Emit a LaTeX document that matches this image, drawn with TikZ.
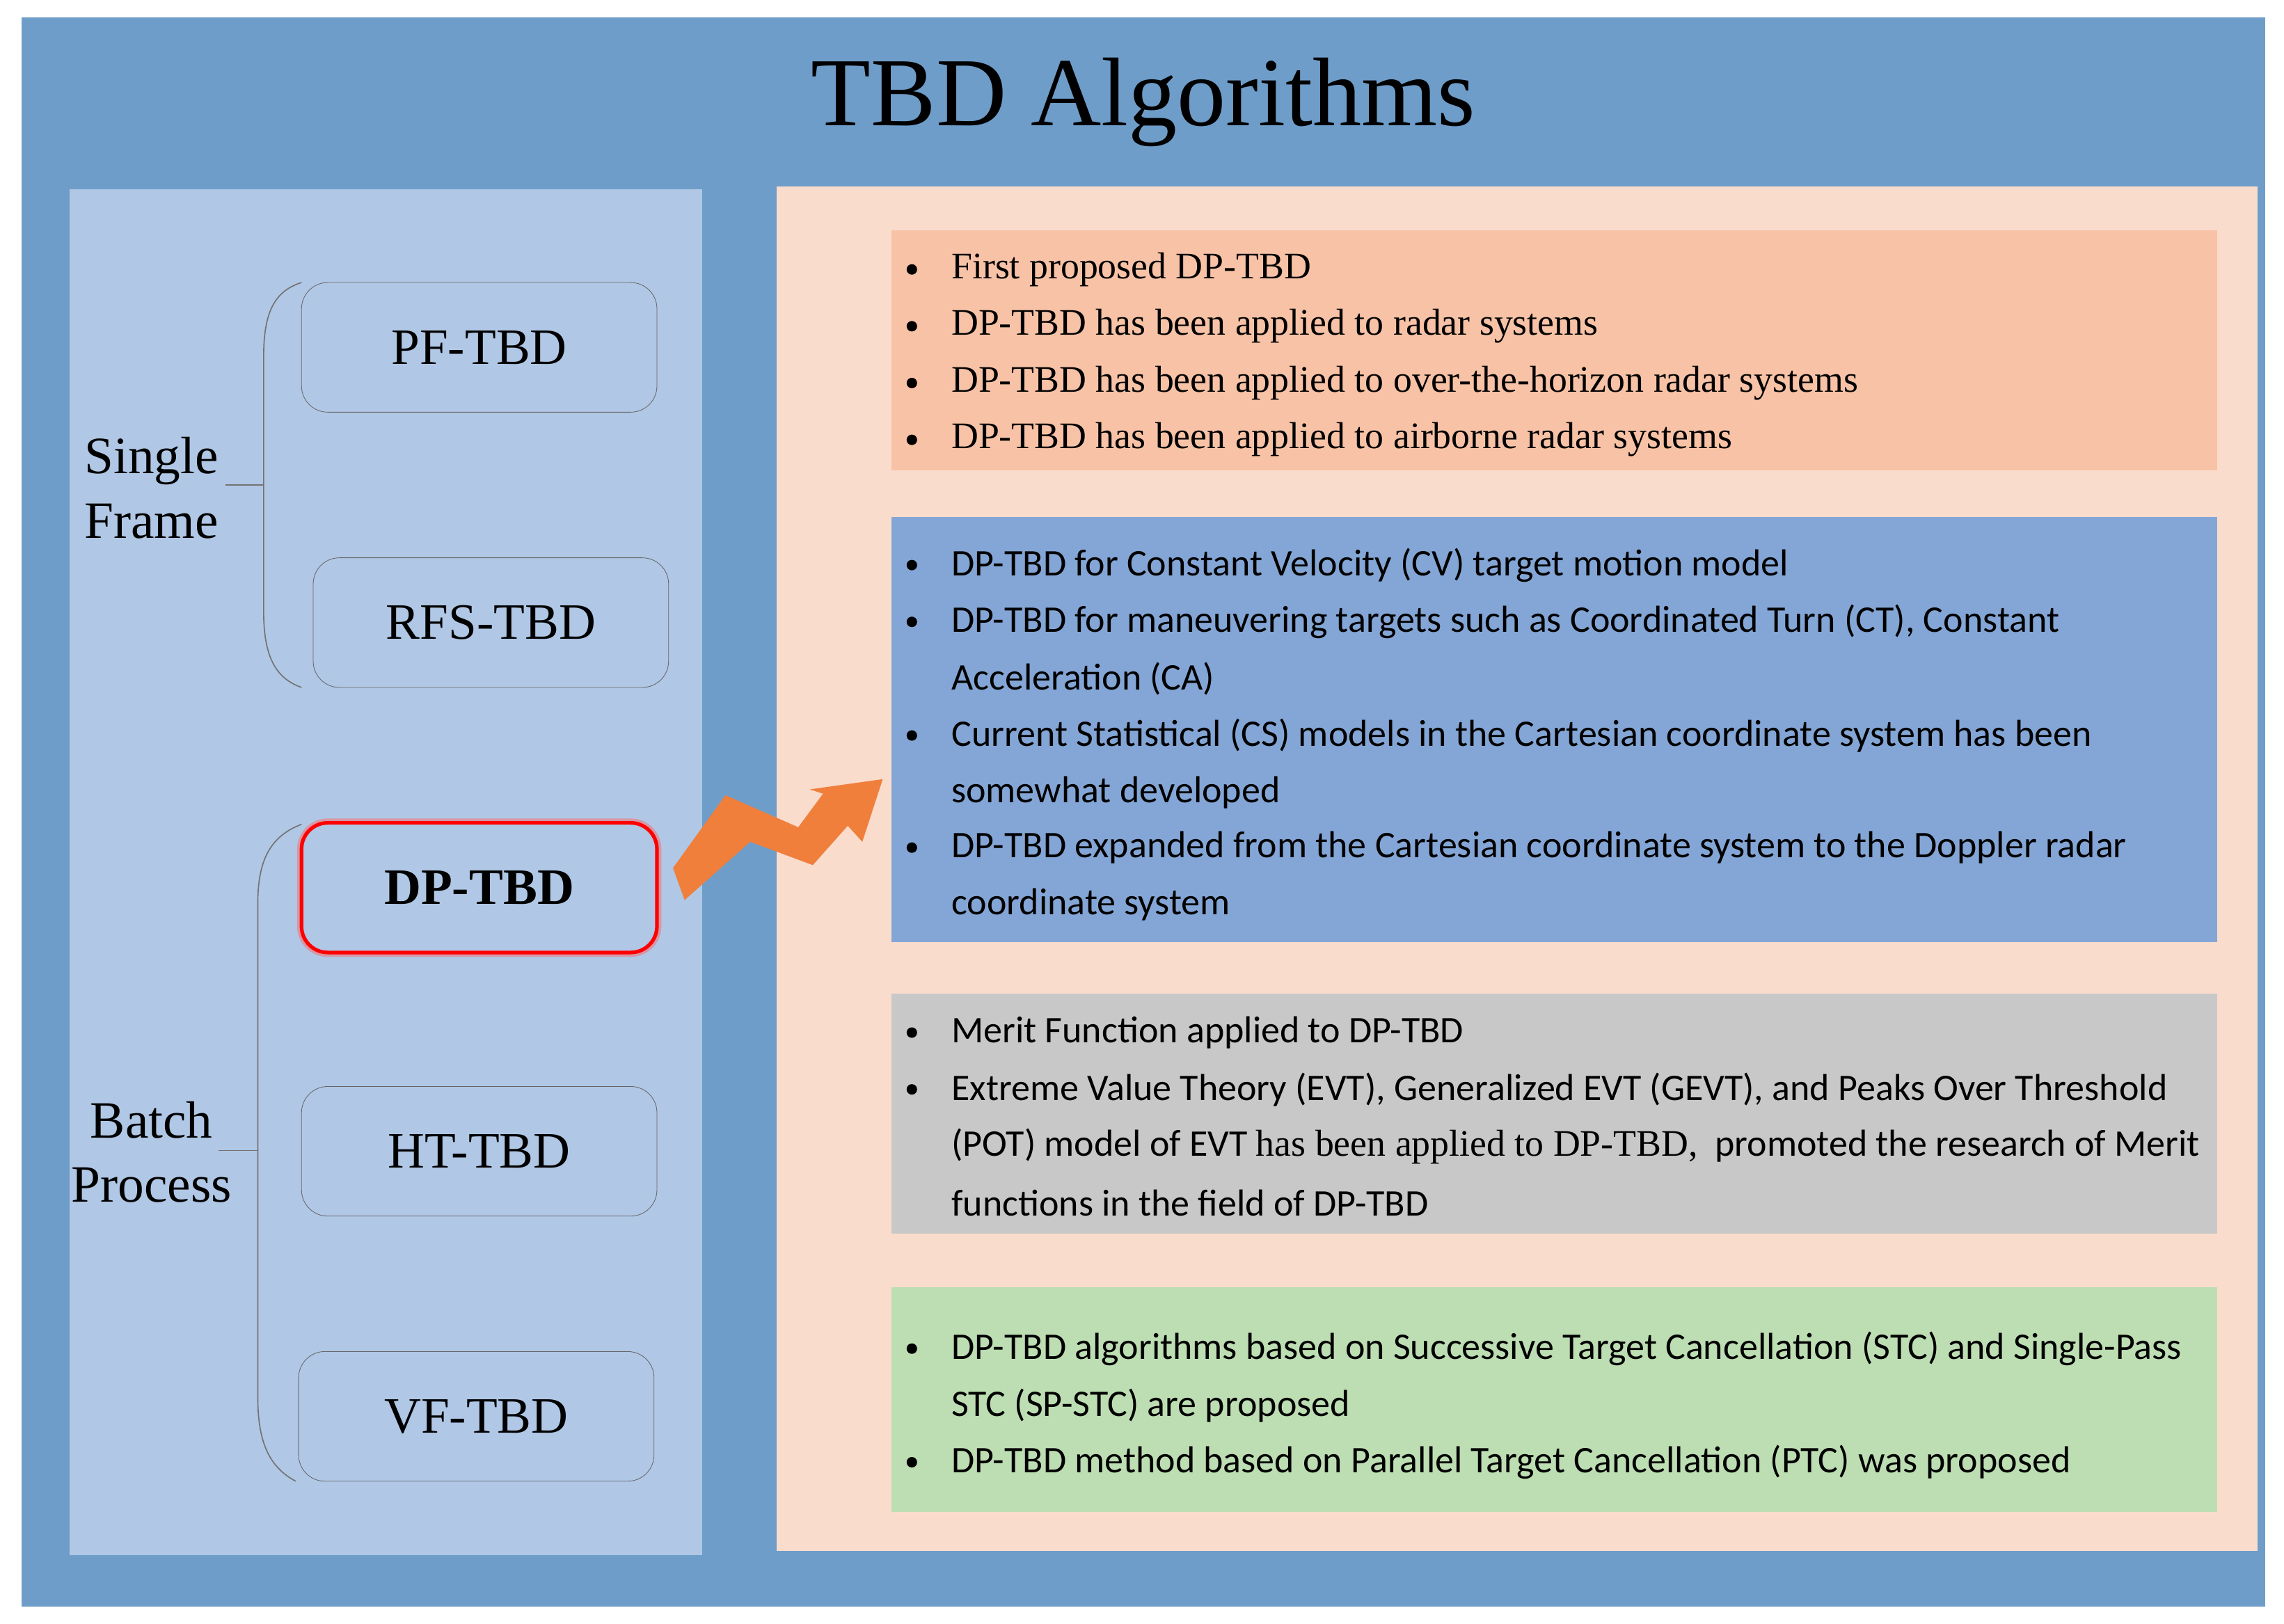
\documentclass[tikz,border=0pt]{standalone}
\usepackage{fontspec}
\setmainfont{Liberation Serif}
\newfontfamily\calfont{Carlito}
\definecolor{frameblue}{HTML}{6E9DC9}
\definecolor{leftblue}{HTML}{B0C7E5}
\definecolor{peach}{HTML}{FADCCD}
\definecolor{boxA}{HTML}{F7C2A6}
\definecolor{boxB}{HTML}{84A6D6}
\definecolor{boxC}{HTML}{C8C8C8}
\definecolor{boxD}{HTML}{BDDEB3}
\definecolor{arr}{HTML}{F07F3C}
\tikzset{
 alg/.style={draw=black!60,rounded corners=18pt,minimum width=244pt,minimum height=89pt,font=\fontsize{35}{40}\selectfont,fill=leftblue},
 bl/.style={anchor=west,inner sep=0pt,font=\fontsize{25.7}{27}\selectfont},
 cb/.style={bl,font=\calfont\fontsize{25.8}{27}\selectfont},
 brace/.style={draw=black!55,line width=0.8pt}
}
\begin{document}
\begin{tikzpicture}[x=1pt,y=-1pt]
\useasboundingbox (0,0) rectangle (1568,1115);
\fill[white] (0,0) rectangle (1568,1115);
\fill[frameblue] (15,12) rectangle (1555,1103);
\node[font=\fontsize{67}{70}\selectfont] (title) at (785,70) {TBD Algorithms};
\fill[leftblue] (48,130) rectangle (482,1068);
\fill[peach] (533,128) rectangle (1550,1065);
\fill[boxA] (612,158) rectangle (1522,323);
\fill[boxB] (612,355) rectangle (1522,647);
\fill[boxC] (612,682) rectangle (1522,847);
\fill[boxD] (612,884) rectangle (1522,1038);
% algorithm nodes
\node[alg] (pf) at (329,238.5) {PF-TBD};
\node[alg] (rfs) at (337,427.5) {RFS-TBD};
\node[alg,draw=red!60,line width=6pt,opacity=0.5] (dpglow) at (329,609.5) {\phantom{DP-TBD}};
\node[alg,draw=red,line width=2.5pt,font=\bfseries\fontsize{35}{40}\selectfont] (dp) at (329,609.5) {DP-TBD};
\node[alg] (ht) at (329,790.5) {HT-TBD};
\node[alg] (vf) at (327,972.5) {VF-TBD};
% braces
\draw[brace] (207,194) .. controls (188,200) and (181,215) .. (181,245) -- (181,420) .. controls (181,452) and (190,466) .. (207,472);
\draw[brace] (181,333) -- (155,333);
\draw[brace] (207,566) .. controls (186,574) and (177,590) .. (177,620) -- (177,960) .. controls (177,992) and (186,1008) .. (203,1017);
\draw[brace] (177,790) -- (150,790);
\node[align=center,font=\fontsize{36}{44}\selectfont] (sf) at (104,335) {Single\\Frame};
\node[align=center,font=\fontsize{36}{44}\selectfont] (bp) at (104,791) {Batch\\Process};
% arrow
\fill[arr] (462,596) -- (498,546) -- (548,568) -- (565,545) -- (556,542) -- (606,535) -- (592,578) -- (582,567) -- (558,594) -- (515,578) -- (470,618) -- cycle;
% box A
\foreach \y/\t [count=\i] in {185/First proposed DP-TBD,224/DP-TBD has been applied to radar systems,263/DP-TBD has been applied to over-the-horizon radar systems,302/DP-TBD has been applied to airborne radar systems}{
 \node[bl] (a\i) at (653,\y) {\t};
 \fill (626,\y) circle (3.6pt);
}
% box B
\node[cb] (b1) at (653,388) {DP-TBD for Constant Velocity (CV) target motion model};
\node[cb] (b2) at (653,427) {DP-TBD for maneuvering targets such as Coordinated Turn (CT), Constant};
\node[cb] (b3) at (653,466) {Acceleration (CA)};
\node[cb] (b4) at (653,505) {Current Statistical (CS) models in the Cartesian coordinate system has been};
\node[cb] (b5) at (653,544) {somewhat developed};
\node[cb] (b6) at (653,582) {DP-TBD expanded from the Cartesian coordinate system to the Doppler radar};
\node[cb] (b7) at (653,621) {coordinate system};
\foreach \y in {388,427,505,582} \fill (626,\y) circle (3.6pt);
% box C
\node[cb] (c1) at (653,709) {Merit Function applied to DP-TBD};
\node[cb] (c2) at (653,748) {Extreme Value Theory (EVT), Generalized EVT (GEVT), and Peaks Over Threshold};
\node[cb] (c3) at (653,787) {(POT) model of EVT {\rmfamily\fontsize{25.7}{27}\selectfont has been applied to DP-TBD,}\ \ promoted the research of Merit};
\node[cb] (c4) at (653,826) {functions in the field of DP-TBD};
\foreach \y in {709,748} \fill (626,\y) circle (3.6pt);
% box D
\node[cb] (d1) at (653,926) {DP-TBD algorithms based on Successive Target Cancellation (STC) and Single-Pass};
\node[cb] (d2) at (653,965) {STC (SP-STC) are proposed};
\node[cb] (d3) at (653,1004) {DP-TBD method based on Parallel Target Cancellation (PTC) was proposed};
\foreach \y in {926,1004} \fill (626,\y) circle (3.6pt);
\end{tikzpicture}
\end{document}
